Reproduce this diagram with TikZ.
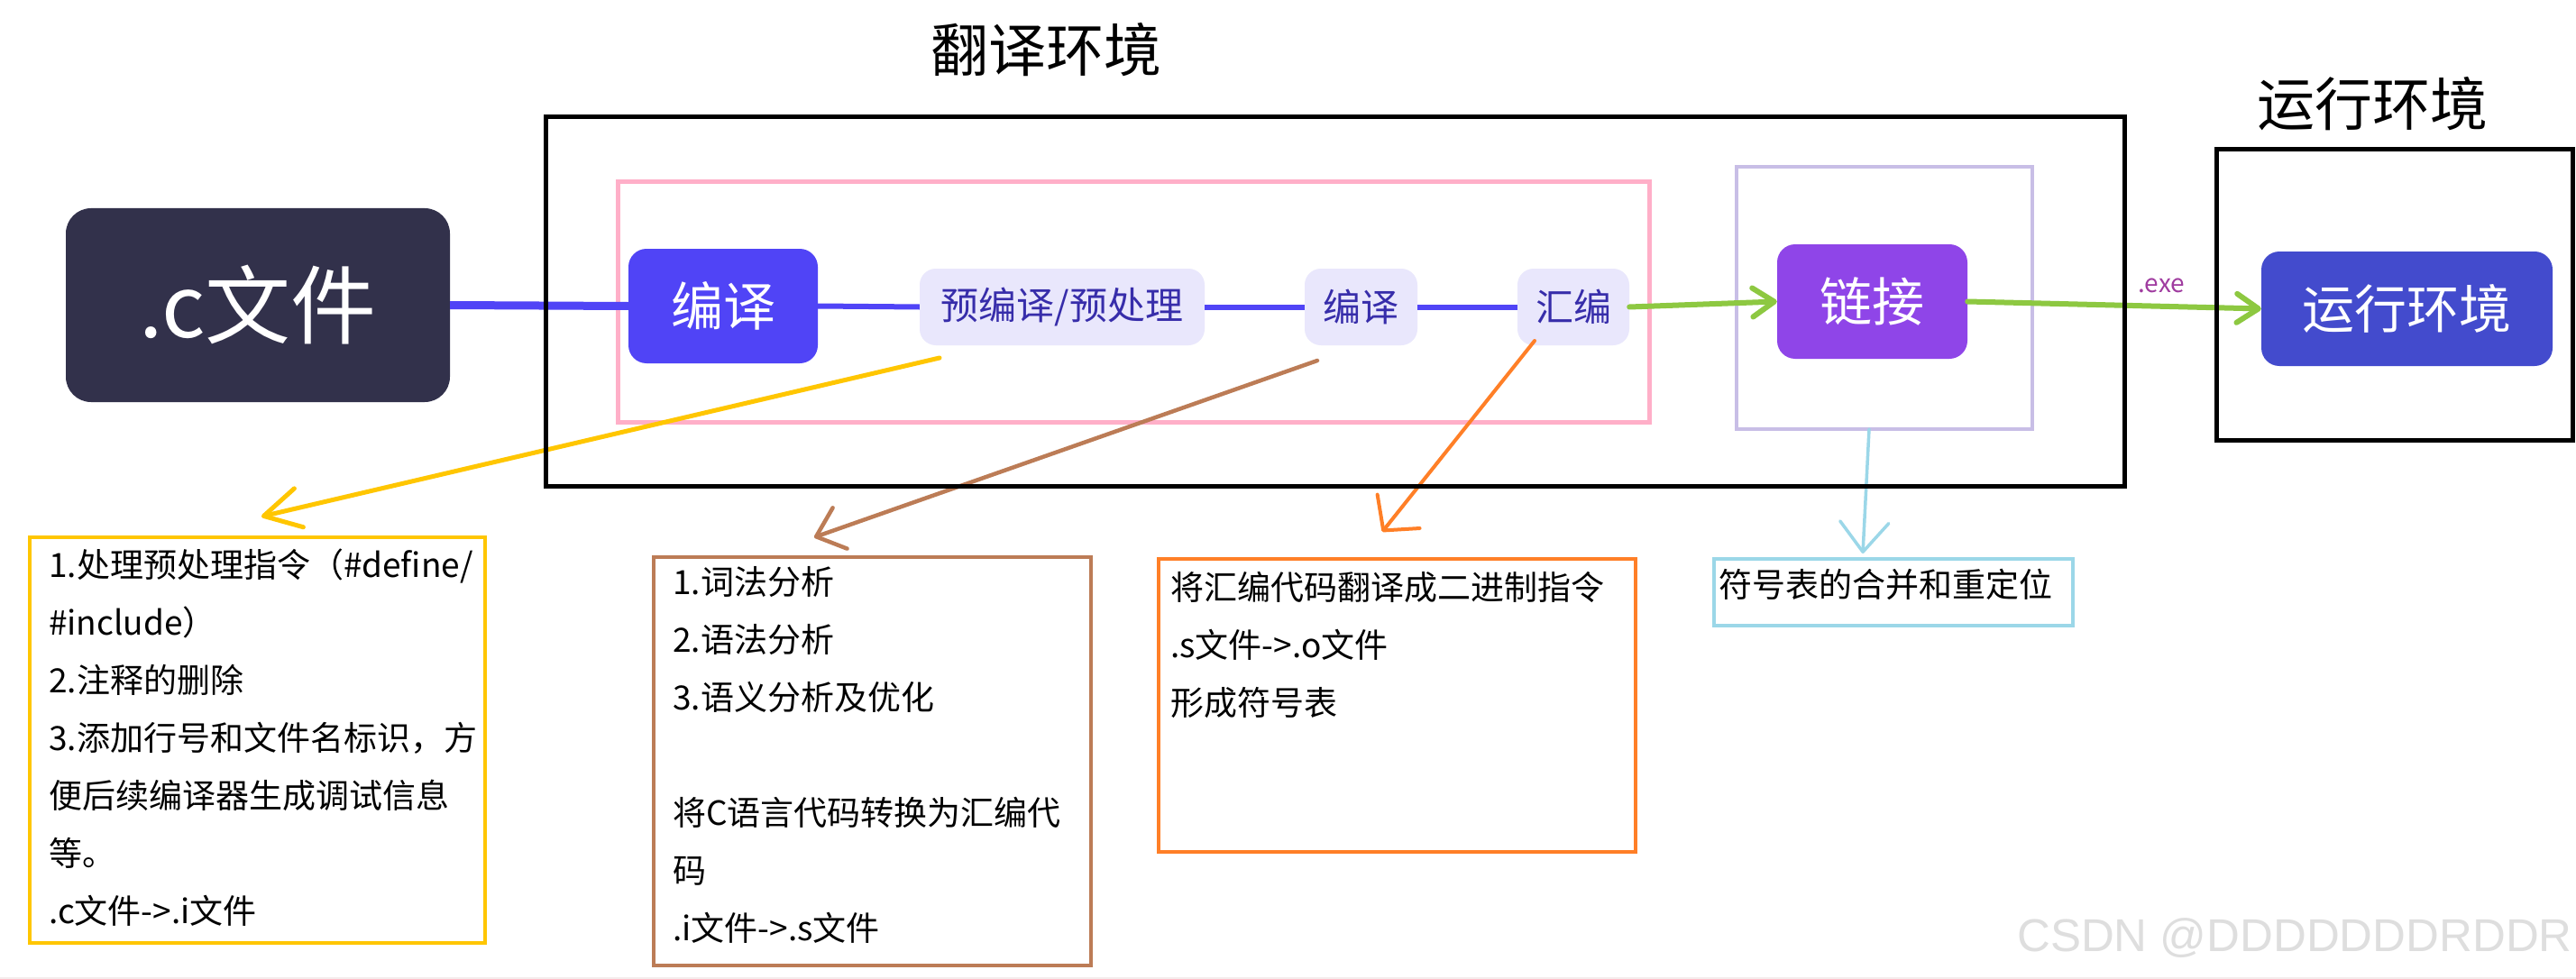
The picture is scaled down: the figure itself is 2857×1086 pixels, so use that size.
\documentclass[tikz,border=0pt]{standalone}
\usepackage{fontspec}
\setmainfont{Noto Sans CJK SC}
\newfontfamily\wmfont{Liberation Sans}
\usetikzlibrary{arrows.meta}
\definecolor{cfile}{RGB}{50,49,75}
\definecolor{cblue}{RGB}{80,68,246}
\definecolor{clight}{RGB}{233,231,252}
\definecolor{ctxt}{RGB}{55,45,170}
\definecolor{clink}{RGB}{143,69,232}
\definecolor{crun}{RGB}{67,75,205}
\definecolor{cpink}{RGB}{255,175,200}
\definecolor{clav}{RGB}{200,190,230}
\definecolor{cltblue}{RGB}{155,215,232}
\definecolor{cyellow}{RGB}{255,198,0}
\definecolor{cbrown}{RGB}{188,124,86}
\definecolor{corange}{RGB}{255,127,39}
\definecolor{cgreen}{RGB}{141,200,65}
\definecolor{cexe}{RGB}{160,60,160}
\definecolor{cwm}{RGB}{222,222,222}
\definecolor{cbottom}{RGB}{244,236,236}
\tikzset{
  darknode/.style={fill=cfile, text=white, rounded corners=28pt, inner sep=0pt,
    font=\fontsize{95}{100}\selectfont},
  bignode/.style={rounded corners=20pt, inner sep=0pt, text=white,
    minimum height=127pt, font=\fontsize{58}{64}\selectfont},
  smallnode/.style={fill=clight, text=ctxt, rounded corners=18pt, inner sep=0pt,
    minimum height=85pt, font=\fontsize{42}{48}\selectfont},
  frame/.style={draw, inner sep=0pt},
  title/.style={inner sep=0pt, font=\fontsize{64}{70}\selectfont},
  notetext/.style={inner sep=0pt, anchor=base west},
  bluelink/.style={draw=cblue, line width=6pt},
  greenarrow/.style={draw=cgreen, line width=6pt, line cap=round,
    -{Straight Barb[round,length=24pt,width=32pt]}},
}
\newcommand{\notefont}{\fontsize{37}{64}\selectfont}
\begin{document}
\begin{tikzpicture}[x=1pt,y=-1pt]
\useasboundingbox (0,0) rectangle (2857,1086);
\fill[white] (0,0) rectangle (2857,1086);
\draw[cbottom, line width=2pt] (0,1085) -- (2857,1085);

% titles
\node[title] (t1) at (1160,55) {翻译环境};
\node[title] (t2) at (2631,115) {运行环境};

% inner frames
\node[frame, draw=cpink, line width=5pt, minimum width=1144pt, minimum height=266pt] (pinkbox) at (1257,335) {};
\node[frame, draw=clav, line width=4pt, minimum width=328pt, minimum height=291pt] (lavbox) at (2090,330.5) {};

% main nodes
\node[darknode, minimum width=426pt, minimum height=215pt] (cfile) at (286,338.5) {.c文件};
\node[bignode, fill=cblue, minimum width=210pt] (bianyi) at (802,339.5) {编译};
\node[smallnode, minimum width=316pt] (pre) at (1178,340.5) {预编译/预处理};
\node[smallnode, minimum width=125pt] (comp) at (1509.5,340.5) {编译};
\node[smallnode, minimum width=124pt] (asm) at (1745,340.5) {汇编};
\node[bignode, fill=clink, minimum width=211pt] (link) at (2076.5,334.5) {链接};
\node[bignode, fill=crun, minimum width=323pt] (run) at (2669.5,342.5) {运行环境};

% blue chain
\draw[bluelink, line width=9pt] (cfile.east) -- (bianyi.west);
\draw[bluelink] (bianyi.east) -- (pre.west);
\draw[bluelink] (pre.east) -- (comp.west);
\draw[bluelink] (comp.east) -- (asm.west);

% green arrows
\draw[greenarrow] (asm.east) -- (link.west);
\draw[greenarrow] (link.east) -- node[pos=0.66, above=12pt, inner sep=0pt, text=cexe, font=\fontsize{28}{30}\selectfont] (exe) {.exe} (run.west);

% note boxes
\node[frame, draw=cyellow, line width=4pt, minimum width=505pt, minimum height=450pt] (ybox) at (285.5,821) {};
\node[frame, draw=cbrown, line width=4pt, minimum width=485pt, minimum height=453pt] (bbox) at (967.5,844.5) {};
\node[frame, draw=corange, line width=4.5pt, minimum width=529pt, minimum height=325pt] (obox) at (1549.5,782.5) {};
\node[frame, draw=cltblue, line width=4.5pt, minimum width=398pt, minimum height=74pt] (lbox) at (2100,657) {};

\node[notetext] (ytext) at (54,640) {\parbox[t]{600pt}{\notefont\raggedright
1.处理预处理指令（\#define/\\
\#include）\\
2.注释的删除\\
3.添加行号和文件名标识，方\\
便后续编译器生成调试信息\\
等。\\
.c文件->.i文件}};
\node[notetext] (btext) at (746,659) {\parbox[t]{600pt}{\notefont\raggedright
1.词法分析\\
2.语法分析\\
3.语义分析及优化\\[64pt]
将C语言代码转换为汇编代\\
码\\
.i文件->.s文件}};
\node[notetext] (otext) at (1298,665) {\parbox[t]{600pt}{\notefont\raggedright
将汇编代码翻译成二进制指令\\
.s文件->.o文件\\
形成符号表}};
\node[notetext] (ltext) at (1906,662) {\parbox[t]{600pt}{\notefont\raggedright
符号表的合并和重定位}};

% pointer arrows
\coordinate (ys) at (1042,397);
\coordinate (ye) at (290,573);
\coordinate (bs) at (1461,400);
\coordinate (be) at (903,596);
\coordinate (os) at (1702,378);
\coordinate (oe) at (1533,590);
\coordinate (ls) at (2073,476);
\coordinate (le) at (2066,614);
\draw[cyellow, line width=5pt, line cap=round, -{Straight Barb[round,length=40pt,width=44pt]}] (ys) -- (ye);
\draw[cbrown, line width=4.5pt, line cap=round, -{Straight Barb[round,length=28pt,width=48pt]}] (bs) -- (be);
\draw[corange, line width=4pt, line cap=round, -{Straight Barb[round,length=27pt,width=60pt]}] (os) -- (oe);
\draw[cltblue, line width=3.5pt, line cap=round, -{Straight Barb[round,length=33pt,width=54pt]}] (ls) -- (le);

% outer black frames
\node[frame, draw=black, line width=5pt, minimum width=1751pt, minimum height=410pt] (transbox) at (1480.5,334.5) {};
\node[frame, draw=black, line width=5pt, minimum width=395pt, minimum height=322pt] (runbox) at (2655.5,327) {};

% watermark
\node[inner sep=0pt, anchor=base east, text=cwm, font=\wmfont\fontsize{51}{55}\selectfont] (wm) at (2853,1055) {CSDN @DDDDDDDRDDR};
\end{tikzpicture}
\end{document}
